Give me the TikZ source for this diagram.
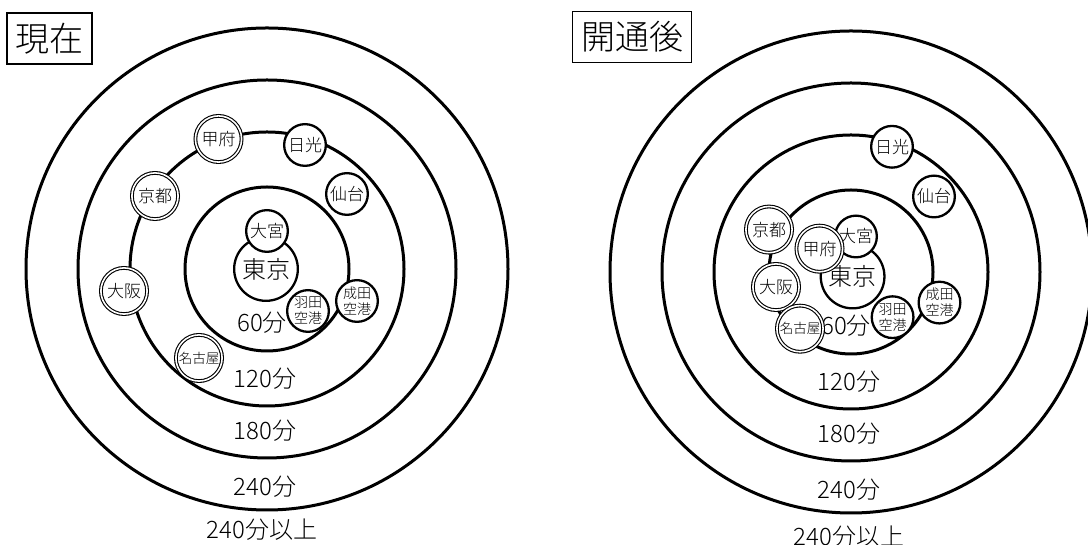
\documentclass[tikz,border=0pt]{standalone}
\usepackage{fontspec}
\setmainfont{Noto Sans CJK JP Light}
\usetikzlibrary{positioning}

\begin{document}
\begin{tikzpicture}[x=1pt,y=1pt]
\tikzset{ring/.style={line width=3pt},
  mins/.style={font=\fontsize{24}{24}\selectfont,inner sep=0pt},
  titlebox/.style={draw,line width=1.5pt,inner xsep=8.5pt,inner ysep=10pt,font=\fontsize{34}{34}\selectfont},
  city/.style={circle,draw,fill=white,line width=2.3pt,inner sep=0pt,minimum size=41.7pt,font=\fontsize{17}{17}\selectfont},
  bigcity/.style={city,minimum size=63.7pt,font=\fontsize{24}{24}\selectfont},
  linecity/.style={city,double,double distance=1.6pt,line width=1.1pt,minimum size=46.2pt},
  airport/.style={city,align=center,font=\fontsize{14}{16}\selectfont},
  smalltext/.style={font=\fontsize{13.5}{14}\selectfont}}
\useasboundingbox (0,0) rectangle (1088,545);

\node[titlebox] (title1) at (49.5,506.5) {現在};
\node[titlebox] (title2) at (632,508) {開通後};

% rings and minutes
\foreach \cx/\cy/\k/\bx/\by in {267/276/1/-5/-261, 851/273/2/-2/-265}{
  \foreach \r in {82,137,189,241}
    \draw[ring] (\cx,\cy) circle[radius=\r];
  \foreach \t/\lx/\ly/\j in {60分/-5/-54/a, 120分/-2/-110/b, 180分/-2/-162/c, 240分/-2/-218/d}
    \node[mins] (lab\k\j) at (\cx+\lx,\cy+\ly) {\t};
  \node[mins] (lab\k e) at (\cx+\bx,\cy+\by) {240分以上};
}

% now
\begin{scope}[shift={(267,276)}]
\node[bigcity] (tokyo1) at (-1,0) {東京};
\node[city] (omiya1) at (0,38) {大宮};
\node[linecity] (kofu1) at (-48.5,130) {甲府};
\node[city] (nikko1) at (38,124) {日光};
\node[linecity] (kyoto1) at (-112,73) {京都};
\node[city] (sendai1) at (80,75) {仙台};
\node[linecity] (osaka1) at (-143,-22) {大阪};
\node[airport] (narita1) at (90,-32) {成田\\空港};
\node[airport] (haneda1) at (41,-42) {羽田\\空港};
\node[linecity,smalltext] (nagoya1) at (-68,-89) {名古屋};
\end{scope}

% after opening
\begin{scope}[shift={(851,273)}]
\node[bigcity] (tokyo2) at (1.6,-4.5) {東京};
\node[city] (omiya2) at (5,35.5) {大宮};
\node[linecity] (kofu2) at (-31.5,23.3) {甲府};
\node[linecity] (kyoto2) at (-82,42.4) {京都};
\node[linecity] (osaka2) at (-75,-15) {大阪};
\node[linecity,smalltext] (nagoya2) at (-51,-56.7) {名古屋};
\node[city] (nikko2) at (41,125.2) {日光};
\node[city] (sendai2) at (83,75.5) {仙台};
\node[airport] (narita2) at (88.5,-30.6) {成田\\空港};
\node[airport] (haneda2) at (41.6,-45.2) {羽田\\空港};
\end{scope}

\end{tikzpicture}
\end{document}
